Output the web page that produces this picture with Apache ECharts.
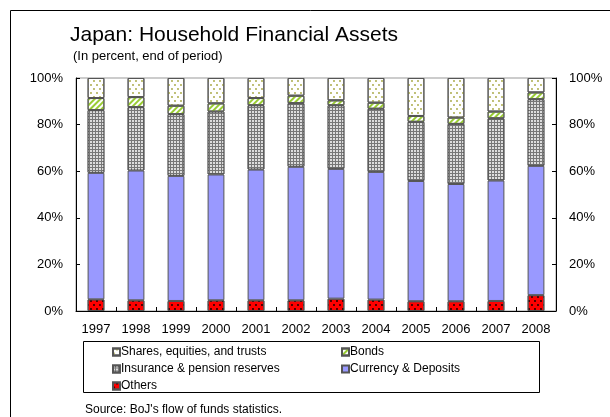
<!DOCTYPE html>
<html>
<head>
<meta charset="utf-8">
<script src="https://cdn.jsdelivr.net/npm/echarts@6/dist/echarts.min.js"></script>
<style>html,body{margin:0;padding:0;background:#fff;}#c{width:610px;height:417px;}</style>
</head>
<body>
<div id="c"></div>
<script>
var years = ['1997','1998','1999','2000','2001','2002','2003','2004','2005','2006','2007','2008'];
var others    = [5.0, 4.6, 4.3, 4.6, 4.6, 4.6, 5.3, 4.9, 4.2, 4.2, 4.3, 6.8];
var currency  = [54.3, 55.7, 53.7, 54.0, 56.1, 57.3, 55.7, 54.8, 51.6, 50.3, 51.7, 55.5];
var insurance = [26.9, 27.2, 26.5, 27.0, 27.6, 27.3, 27.3, 27.1, 25.4, 25.8, 26.7, 28.6];
var bonds     = [5.2, 4.3, 3.6, 3.5, 3.1, 3.2, 2.1, 2.6, 2.5, 2.7, 2.9, 2.9];
var shares    = [8.6, 8.2, 11.9, 10.9, 8.6, 7.6, 9.6, 10.6, 16.3, 17.0, 14.4, 6.2];
var yTicks = [0, 20, 40, 60, 80, 100];

var FONT = 'Liberation Sans, Arial, sans-serif';
var border = {borderColor: '#555', borderWidth: 1};

var styles = {
  'Others': Object.assign({color: '#ff0000', decal: {symbol: 'circle', symbolSize: 0.9, color: '#000', dashArrayX: [[2, 4], [0, 3, 2, 1]], dashArrayY: [2, 2]}}, border),
  'Currency & Deposits': Object.assign({color: '#9999ff'}, border),
  'Insurance & pension reserves': Object.assign({color: '#777777', decal: {symbol: 'circle', symbolSize: 1, color: '#ffffff', dashArrayX: [[2, 1]], dashArrayY: [2, 1]}}, border),
  'Bonds': Object.assign({color: '#ffffff', decal: {symbol: 'rect', symbolSize: 1, color: '#99cc33', dashArrayX: [1, 0], dashArrayY: [2, 2], rotation: -Math.PI / 4}}, border),
  'Shares, equities, and trusts': Object.assign({color: '#ffffff', decal: {symbol: 'circle', symbolSize: 0.9, color: '#a3a33a', dashArrayX: [[2, 4], [0, 3, 2, 1]], dashArrayY: [2, 2]}}, border)
};

var seriesDefs = [
  ['Others', others],
  ['Currency & Deposits', currency],
  ['Insurance & pension reserves', insurance],
  ['Bonds', bonds],
  ['Shares, equities, and trusts', shares]
];

var series = seriesDefs.map(function (d) {
  return {
    name: d[0], type: 'bar', stack: 'a', data: d[1], barWidth: '42%',
    itemStyle: styles[d[0]], emphasis: {disabled: true}, animation: false
  };
});

function legendAt(name, left, top) {
  return {
    data: [name], left: left, top: top, padding: 0, itemWidth: 7, itemHeight: 7, itemGap: 0,
    icon: 'rect', selectedMode: false,
    textStyle: {fontFamily: FONT, fontSize: 12, color: '#000', padding: [0, 0, 0, -4]}
  };
}

var chart = echarts.init(document.getElementById('c'), null, {renderer: 'canvas'});
chart.setOption({
  animation: false,
  backgroundColor: '#fff',
  grid: {left: 76, right: 54, top: 78, bottom: 106, show: true, borderColor: '#999', borderWidth: 1, backgroundColor: 'transparent'},
  title: [
    {text: 'Japan: Household Financial Assets', left: 70, top: 25, padding: 0, textStyle: {fontFamily: FONT, fontSize: 21, fontWeight: 'normal', color: '#000'}},
    {text: '(In percent, end of period)', left: 73, top: 50, padding: 0, textStyle: {fontFamily: FONT, fontSize: 13, fontWeight: 'normal', color: '#000'}},
    {text: "Source: BoJ's flow of funds statistics.", left: 85, top: 404, padding: 0, textStyle: {fontFamily: FONT, fontSize: 12, fontWeight: 'normal', color: '#000'}}
  ],
  legend: [
    legendAt('Shares, equities, and trusts', 112, 346),
    legendAt('Bonds', 341, 346),
    legendAt('Insurance & pension reserves', 112, 363),
    legendAt('Currency & Deposits', 341, 363),
    legendAt('Others', 112, 380)
  ],
  xAxis: {
    type: 'category', data: years,
    axisLine: {lineStyle: {color: '#000', width: 1}},
    axisTick: {show: true, inside: true, length: 4, alignWithLabel: false, lineStyle: {color: '#000'}},
    axisLabel: {fontFamily: FONT, fontSize: 13, color: '#000', margin: 12}
  },
  yAxis: [
    {
      type: 'value', min: 0, max: 100, interval: 20, position: 'left',
      axisLine: {show: true, lineStyle: {color: '#000'}},
      axisTick: {show: true, inside: true, length: 4, lineStyle: {color: '#000'}},
      splitLine: {show: false},
      axisLabel: {fontFamily: FONT, fontSize: 13, color: '#000', margin: 13, formatter: function (v) { return v + '%'; }}
    },
    {
      type: 'value', min: 0, max: 100, interval: 20, position: 'right',
      axisLine: {show: true, lineStyle: {color: '#000'}},
      axisTick: {show: true, inside: true, length: 4, lineStyle: {color: '#000'}},
      splitLine: {show: false},
      axisLabel: {fontFamily: FONT, fontSize: 13, color: '#000', margin: 13, formatter: function (v) { return v + '%'; }}
    }
  ],
  series: series,
  graphic: [
    {type: 'line', shape: {x1: 10.5, y1: 10.5, x2: 610, y2: 10.5}, style: {stroke: '#000', lineWidth: 1}},
    {type: 'line', shape: {x1: 10.5, y1: 10.5, x2: 10.5, y2: 417}, style: {stroke: '#000', lineWidth: 1}},
    {type: 'rect', shape: {x: 83.5, y: 341.5, width: 456, height: 51}, style: {fill: 'none', stroke: '#000', lineWidth: 1}}
  ]
});
</script>
</body>
</html>
